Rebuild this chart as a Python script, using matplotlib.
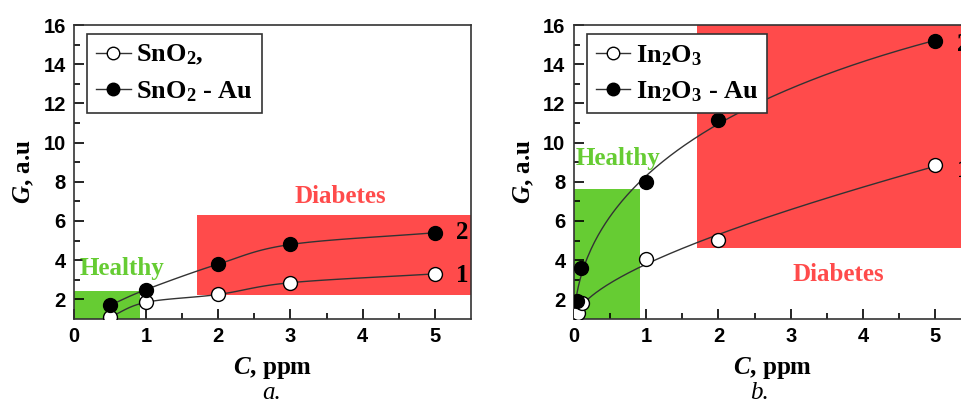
import matplotlib
matplotlib.use("Agg")
import matplotlib.pyplot as plt
import numpy as np
from matplotlib.lines import Line2D
from matplotlib.patches import Rectangle

plt.rcParams['mathtext.fontset'] = 'custom'
plt.rcParams['mathtext.rm'] = 'Liberation Serif:bold'
plt.rcParams['mathtext.it'] = 'Liberation Serif:italic:bold'
plt.rcParams['mathtext.bf'] = 'Liberation Serif:bold'

# panel a: SnO2
c_a_1 = [0.5, 1, 2, 3, 5]
g_a_1 = [1.1, 1.85, 2.25, 2.85, 3.3]
c_a_2 = [0.5, 1, 2, 3, 5]
g_a_2 = [1.7, 2.5, 3.8, 4.8, 5.4]

# panel b: In2O3
c_b_1 = [0.06, 0.115, 1, 2, 5]
g_b_1 = [1.3, 1.81, 4.04, 5.05, 8.85]
c_b_2 = [0.04, 0.1, 1, 2, 5]
g_b_2 = [1.9, 3.62, 8.0, 11.15, 15.2]

labels_a = ['SnO$_2$,', 'SnO$_2$ - Au']
labels_b = ['In$_2$O$_3$', 'In$_2$O$_3$ - Au']

GREEN = '#66CC33'
RED = '#FF4B4B'
serif_b = dict(family='Liberation Serif', weight='bold')


def smooth(x, y, n=20):
    # Catmull-Rom curve through the points
    x = np.asarray(x, float); y = np.asarray(y, float)
    px = np.concatenate([[2 * x[0] - x[1]], x, [2 * x[-1] - x[-2]]])
    py = np.concatenate([[2 * y[0] - y[1]], y, [2 * y[-1] - y[-2]]])
    xs, ys = [], []
    t = np.linspace(0, 1, n)
    for i in range(1, len(px) - 2):
        for p, out in ((px, xs), (py, ys)):
            p0, p1, p2, p3 = p[i - 1], p[i], p[i + 1], p[i + 2]
            out.append(0.5 * (2 * p1 + (-p0 + p2) * t + (2 * p0 - 5 * p1 + 4 * p2 - p3) * t ** 2
                              + (-p0 + 3 * p1 - 3 * p2 + p3) * t ** 3))
    return np.concatenate(xs), np.concatenate(ys)


def sqrtfit(x, y):
    # quadratic fit in sqrt(C)
    k = np.polyfit(np.sqrt(x), y, 2)
    xs = np.linspace(min(x), max(x), 200)
    return xs, np.polyval(k, np.sqrt(xs))


def style(ax):
    ax.set_xlim(0, 5.5)
    ax.set_ylim(1, 16)
    ax.set_xticks([0, 1, 2, 3, 4, 5])
    ax.set_xticks([0.5, 1.5, 2.5, 3.5, 4.5], minor=True)
    ax.set_yticks([2, 4, 6, 8, 10, 12, 14, 16])
    ax.set_yticks([3, 5, 7, 9, 11, 13, 15], minor=True)
    ax.tick_params(which='both', direction='in', width=1.2, labelsize=14.5, pad=6)
    ax.tick_params(which='major', length=7)
    ax.tick_params(which='minor', length=4)
    for lab in ax.get_xticklabels() + ax.get_yticklabels():
        lab.set_fontweight('bold')
        lab.set_family('Liberation Sans')
    for s in ax.spines.values():
        s.set_linewidth(1.2)
        s.set_color('#333333')
    ax.set_xlabel('$\\it{C}$, ppm', fontsize=18, **serif_b, labelpad=6)
    ax.set_ylabel('$\\it{G}$, a.u', fontsize=18, **serif_b, labelpad=5)


def series(ax, x, y, fill, curve):
    ax.plot(*curve, color='#333333', lw=1, zorder=3)
    ax.plot(x, y, ls='none', marker='o', ms=10, mfc=fill, mec='black', mew=1, zorder=4)


def legend(ax, labels):
    h = [Line2D([], [], color='#333333', lw=1, marker='o', ms=9, mfc='white', mec='black'),
         Line2D([], [], color='#333333', lw=1, marker='o', ms=9, mfc='black', mec='black')]
    leg = ax.legend(h, labels, loc='upper left', bbox_to_anchor=(0.033, 0.97), borderaxespad=0,
                    prop=dict(family='Liberation Serif', weight='bold', size=19),
                    frameon=True, fancybox=False, edgecolor='#333333', framealpha=1,
                    handlelength=1.3, handletextpad=0.2, borderpad=0.35, labelspacing=0.45)
    leg.get_frame().set_linewidth(1.2)
    leg.set_zorder(6)


fig = plt.figure(figsize=(9.61, 4.11), dpi=100)

# --- panel a ---
ax = fig.add_axes([0.077, 0.224, 0.413, 0.715])
style(ax)
ax.add_patch(Rectangle((0, 1), 0.92, 1.42, color=GREEN, lw=0, zorder=1))
ax.add_patch(Rectangle((1.7, 2.24), 3.8, 4.06, color=RED, lw=0, zorder=1))
series(ax, c_a_1, g_a_1, 'white', smooth(c_a_1, g_a_1))
series(ax, c_a_2, g_a_2, 'black', smooth(c_a_2, g_a_2))
ax.text(0.08, 3.55, 'Healthy', color=GREEN, fontsize=18, va='center', **serif_b)
ax.text(3.06, 7.25, 'Diabetes', color=RED, fontsize=18, va='center', **serif_b)
ax.text(5.3, 5.4, '2', fontsize=18, va='center', **serif_b)
ax.text(5.3, 3.2, '1', fontsize=18, va='center', **serif_b)
legend(ax, labels_a)
fig.text(0.283, 0.018, 'a.', fontsize=18, family='Liberation Serif', style='italic',
         ha='center', va='bottom')

# --- panel b ---
ax = fig.add_axes([0.597, 0.224, 0.414, 0.715])
style(ax)
ax.spines['right'].set_visible(False)
ax.add_patch(Rectangle((0, 1), 0.91, 6.64, color=GREEN, lw=0, zorder=1))
ax.add_patch(Rectangle((1.7, 4.64), 3.8, 11.36, color=RED, lw=0, zorder=1))
series(ax, c_b_1, g_b_1, 'white', sqrtfit(c_b_1, g_b_1))
series(ax, c_b_2, g_b_2, 'black', sqrtfit(c_b_2, g_b_2))
ax.text(0.03, 9.2, 'Healthy', color=GREEN, fontsize=18, va='center', **serif_b)
ax.text(3.03, 3.25, 'Diabetes', color=RED, fontsize=18, va='center', **serif_b)
ax.text(5.3, 15.0, '2', fontsize=18, va='center', **serif_b)
ax.text(5.3, 8.6, '1', fontsize=18, va='center', **serif_b)
legend(ax, labels_b)
fig.text(0.79, 0.018, 'b.', fontsize=18, family='Liberation Serif', style='italic',
         ha='center', va='bottom')

fig.savefig('out.png', dpi=100)
